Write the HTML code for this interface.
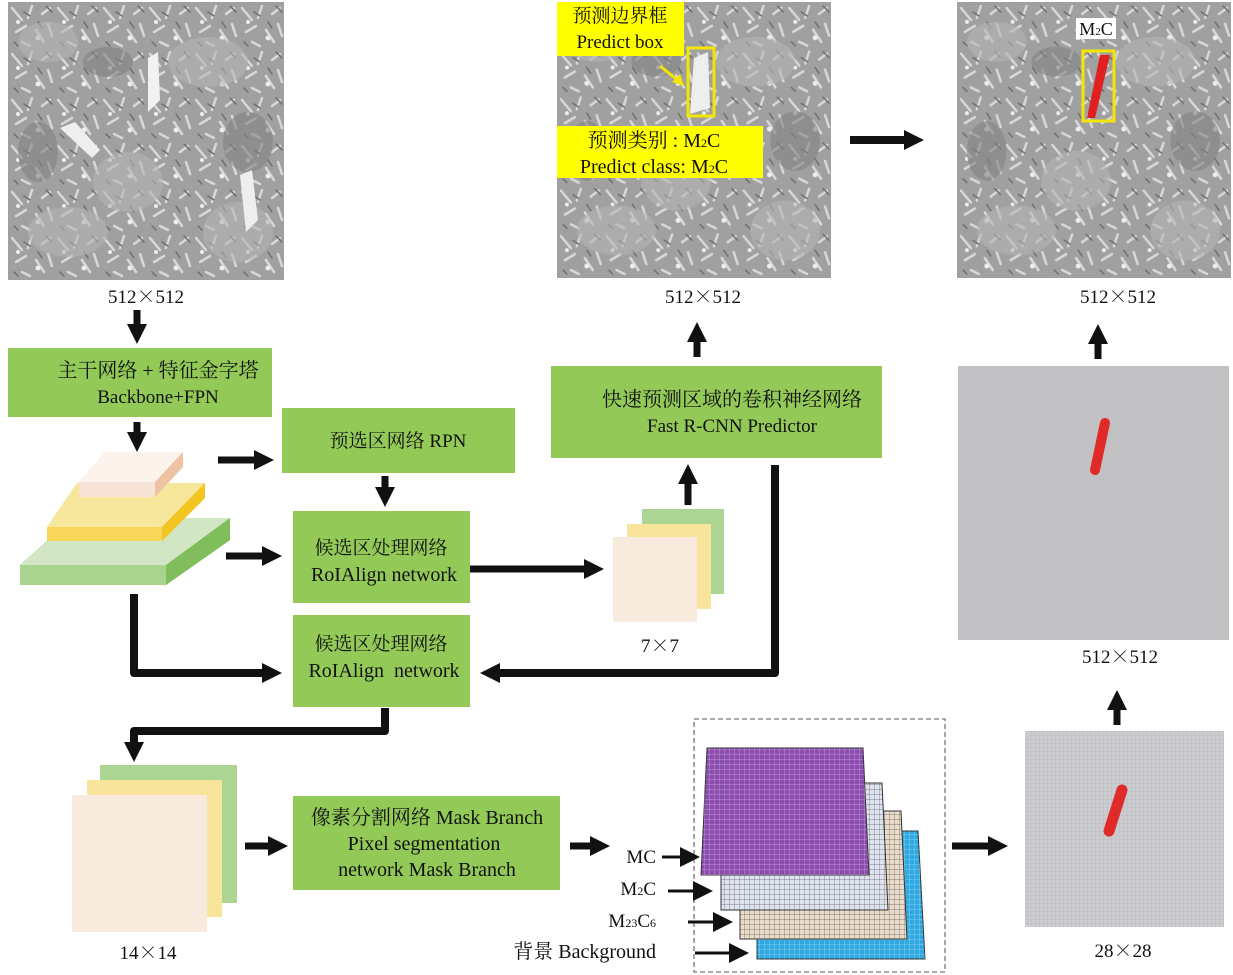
<!DOCTYPE html>
<html><head><meta charset="utf-8"><style>
html,body{margin:0;padding:0;background:#fff;}
svg{display:block;}
text{font-family:"Liberation Serif","Noto Serif CJK SC","Noto Sans CJK SC",serif;fill:#111;}
.x{font-family:"Noto Serif CJK SC","Noto Sans CJK SC",serif;}
</style></head><body>
<svg width="1233" height="975" viewBox="0 0 1233 975" xmlns="http://www.w3.org/2000/svg">
<defs>
<marker id="ah" markerUnits="userSpaceOnUse" markerWidth="22" markerHeight="22" refX="4" refY="11" orient="auto">
<path d="M0,1 L20,11 L0,21 z" fill="#111"/>
</marker>
<pattern id="grid" width="4" height="4" patternUnits="userSpaceOnUse"><path d="M4,0 V4 H0" fill="none" stroke="#b2b3b6" stroke-width="0.6"/></pattern>
<pattern id="gw" width="5" height="5" patternUnits="userSpaceOnUse"><path d="M5,0 V5 H0" fill="none" stroke="rgba(255,255,255,0.55)" stroke-width="0.7"/></pattern>
<pattern id="gd" width="5" height="5" patternUnits="userSpaceOnUse"><path d="M5,0 V5 H0" fill="none" stroke="rgba(40,40,60,0.7)" stroke-width="0.7"/></pattern>
<pattern id="tex" width="46" height="46" patternUnits="userSpaceOnUse">
<rect width="46" height="46" fill="#a0a0a0"/>
<g stroke="#d8d8d8" stroke-width="2.5" stroke-linecap="round">
<path d="M4,6 L14,18 M24,4 L20,16 M34,12 L42,6 M8,30 L18,24 M28,28 L36,40 M40,22 L44,34 M14,40 L22,44"/>
</g>
<g stroke="#6e6e6e" stroke-width="1.5" stroke-linecap="round"><path d="M16,10 L22,14 M30,20 L34,26 M6,40 L10,44 M38,4 L44,10"/></g>
<g fill="#ededed"><circle cx="30" cy="36" r="2.5"/><circle cx="10" cy="20" r="2"/></g>
</pattern>
<symbol id="micro" viewBox="0 0 276 278">
<rect width="276" height="278" fill="url(#tex)"/>
<g fill="#b4b4b4" opacity="0.6">
<ellipse cx="40" cy="40" rx="30" ry="20"/><ellipse cx="200" cy="60" rx="40" ry="25"/><ellipse cx="120" cy="180" rx="35" ry="30"/>
<ellipse cx="230" cy="230" rx="35" ry="30"/><ellipse cx="60" cy="230" rx="40" ry="25"/>
</g>
<g fill="#828282" opacity="0.6"><ellipse cx="100" cy="60" rx="25" ry="15"/><ellipse cx="240" cy="140" rx="25" ry="30"/><ellipse cx="30" cy="150" rx="20" ry="30"/></g>
</symbol>
</defs>

<!-- micrograph 1 -->
<use href="#micro" x="8" y="2" width="276" height="278"/>
<path d="M148,58 L158,52 L160,100 L148,112 z" fill="#f2f2f2"/>
<path d="M60,128 L75,122 L100,150 L92,158 z" fill="#eee"/>
<path d="M240,175 L252,170 L258,220 L246,232 z" fill="#eee"/>
<text x="146" y="303" font-size="19" text-anchor="middle">512<tspan class="x">×</tspan>512</text>

<!-- micrograph 2 -->
<use href="#micro" x="557" y="2" width="274" height="276"/>
<path d="M694,58 L708,52 L710,108 L690,114 z" fill="#eee"/>
<rect x="557" y="2" width="127" height="54" fill="#ffff00"/>
<text x="620" y="22" font-size="19" text-anchor="middle">预测边界框</text>
<text x="620" y="48" font-size="19" text-anchor="middle" font-family="Liberation Sans">Predict box</text>
<rect x="688" y="48" width="26" height="68" fill="none" stroke="#f3e600" stroke-width="3"/>
<path d="M660,66 L680,82" stroke="#f3e600" stroke-width="3"/>
<path d="M684,86 L672,82 L680,74 z" fill="#f3e600"/>
<rect x="557" y="126" width="206" height="52" fill="#ffff00"/>
<text x="654" y="147" font-size="20" text-anchor="middle">预测类别 : M<tspan font-size="12">2</tspan>C</text>
<text x="654" y="173" font-size="20" text-anchor="middle">Predict class: M<tspan font-size="12">2</tspan>C</text>
<text x="703" y="303" font-size="19" text-anchor="middle">512<tspan class="x">×</tspan>512</text>

<line x1="850" y1="140" x2="908" y2="140" stroke="#111" stroke-width="8" marker-end="url(#ah)"/>

<!-- micrograph 3 -->
<use href="#micro" x="957" y="2" width="274" height="276"/>
<rect x="1076" y="18" width="40" height="21" fill="#fff"/>
<text x="1096" y="35" font-size="18" text-anchor="middle">M<tspan font-size="11">2</tspan>C</text>
<rect x="1083" y="51" width="31" height="70" fill="none" stroke="#f3e600" stroke-width="3"/>
<path d="M1100,55 L1110,55 L1095,118 L1087,118 z" fill="#e02020"/>
<text x="1118" y="303" font-size="19" text-anchor="middle">512<tspan class="x">×</tspan>512</text>

<line x1="137" y1="310" x2="137" y2="328" stroke="#111" stroke-width="7" marker-end="url(#ah)"/>
<line x1="697" y1="357" x2="697" y2="338" stroke="#111" stroke-width="7" marker-end="url(#ah)"/>
<line x1="1098" y1="359" x2="1098" y2="340" stroke="#111" stroke-width="7" marker-end="url(#ah)"/>

<rect x="8" y="348" width="264" height="69" fill="#92c957"/>
<text x="158" y="377" font-size="20" text-anchor="middle">主干网络 + 特征金字塔</text>
<text x="158" y="403" font-size="19" text-anchor="middle" font-family="Liberation Sans">Backbone+FPN</text>
<line x1="137" y1="422" x2="137" y2="436" stroke="#111" stroke-width="7" marker-end="url(#ah)"/>

<!-- pyramid -->
<path d="M20,565 L72,518 L230,518 L230,540 L166,585 L20,585 z" fill="#a9d48f"/>
<path d="M20,565 L72,518 L230,518 L166,565 z" fill="#d3e6c4"/>
<path d="M166,565 L230,518 L230,540 L166,585 z" fill="#7fbe5a"/>
<path d="M47,527 L77,483 L205,483 L205,498 L162,541 L47,541 z" fill="#f7d65a"/>
<path d="M47,527 L77,483 L205,483 L162,527 z" fill="#f6e79c"/>
<path d="M162,527 L205,483 L205,498 L162,541 z" fill="#f2c520"/>
<path d="M79,482 L105,452 L183,452 L183,467 L155,497 L79,497 z" fill="#f8e4d6"/>
<path d="M79,482 L105,452 L183,452 L155,482 z" fill="#fbf3ec"/>
<path d="M155,482 L183,452 L183,467 L155,497 z" fill="#eec2a2"/>

<line x1="218" y1="460" x2="258" y2="460" stroke="#111" stroke-width="7" marker-end="url(#ah)"/>
<rect x="282" y="408" width="233" height="65" fill="#92c957"/>
<text x="398" y="447" font-size="19" text-anchor="middle">预选区网络 RPN</text>
<line x1="385" y1="476" x2="385" y2="491" stroke="#111" stroke-width="7" marker-end="url(#ah)"/>

<line x1="226" y1="556" x2="266" y2="556" stroke="#111" stroke-width="7" marker-end="url(#ah)"/>
<rect x="293" y="511" width="177" height="92" fill="#92c957"/>
<text x="381" y="554" font-size="19" text-anchor="middle">候选区处理网络</text>
<text x="384" y="581" font-size="20" text-anchor="middle">RoIAlign network</text>
<line x1="470" y1="569" x2="588" y2="569" stroke="#111" stroke-width="7" marker-end="url(#ah)"/>

<rect x="642" y="509" width="82" height="85" fill="#acd493"/>
<rect x="627" y="524" width="84" height="85" fill="#f8e49a"/>
<rect x="613" y="537" width="84" height="85" fill="#f8ebdd"/>
<text x="660" y="652" font-size="19" text-anchor="middle">7<tspan class="x">×</tspan>7</text>
<line x1="688" y1="505" x2="688" y2="480" stroke="#111" stroke-width="7" marker-end="url(#ah)"/>

<rect x="551" y="366" width="331" height="92" fill="#92c957"/>
<text x="732" y="406" font-size="20" text-anchor="middle">快速预测区域的卷积神经网络</text>
<text x="732" y="432" font-size="19" text-anchor="middle">Fast R-CNN Predictor</text>
<path d="M775,465 L775,673 L496,673" fill="none" stroke="#111" stroke-width="8" stroke-linejoin="round" marker-end="url(#ah)"/>

<path d="M134,594 L134,673 L266,673" fill="none" stroke="#111" stroke-width="8" stroke-linejoin="round" marker-end="url(#ah)"/>
<rect x="293" y="615" width="177" height="92" fill="#92c957"/>
<text x="381" y="650" font-size="19" text-anchor="middle">候选区处理网络</text>
<text x="384" y="677" font-size="20" text-anchor="middle">RoIAlign&#160; network</text>
<path d="M385,708 L385,731 L134,731 L134,746" fill="none" stroke="#111" stroke-width="8" stroke-linejoin="round" marker-end="url(#ah)"/>

<rect x="100" y="765" width="137" height="138" fill="#acd493"/>
<rect x="87" y="780" width="135" height="137" fill="#f8e49a"/>
<rect x="72" y="795" width="135" height="137" fill="#f8ebdd"/>
<text x="148" y="959" font-size="19" text-anchor="middle">14<tspan class="x">×</tspan>14</text>
<line x1="245" y1="846" x2="272" y2="846" stroke="#111" stroke-width="7" marker-end="url(#ah)"/>

<rect x="293" y="796" width="267" height="94" fill="#92c957"/>
<text x="427" y="824" font-size="20" text-anchor="middle">像素分割网络 Mask Branch</text>
<text x="424" y="850" font-size="20" text-anchor="middle">Pixel segmentation</text>
<text x="427" y="876" font-size="20" text-anchor="middle">network Mask Branch</text>
<line x1="570" y1="846" x2="594" y2="846" stroke="#111" stroke-width="7" marker-end="url(#ah)"/>

<rect x="694" y="719" width="251" height="253" fill="none" stroke="#777" stroke-width="1.3" stroke-dasharray="5,3"/>
<path d="M757,831 L918,831 L925,959 L757,959 z" fill="#2fa9e1" stroke="#333"/>
<path d="M757,831 L918,831 L925,959 L757,959 z" fill="url(#gw)"/>
<path d="M740,811 L901,811 L907,939 L740,939 z" fill="#eadcc8" stroke="#333"/>
<path d="M740,811 L901,811 L907,939 L740,939 z" fill="url(#gd)"/>
<path d="M721,783 L882,783 L888,910 L721,910 z" fill="#dfe3ee" stroke="#333"/>
<path d="M721,783 L882,783 L888,910 L721,910 z" fill="url(#gd)"/>
<path d="M707,748 L863,748 L869,875 L701,875 z" fill="#8c4cb0" stroke="#333"/>
<path d="M707,748 L863,748 L869,875 L701,875 z" fill="url(#gw)"/>
<text x="656" y="863" font-size="19" text-anchor="end">MC</text>
<line x1="662" y1="857" x2="684" y2="857" stroke="#111" stroke-width="3" marker-end="url(#ah)"/>
<text x="656" y="895" font-size="19" text-anchor="end">M<tspan font-size="12">2</tspan>C</text>
<line x1="668" y1="891" x2="697" y2="891" stroke="#111" stroke-width="3" marker-end="url(#ah)"/>
<text x="656" y="927" font-size="19" text-anchor="end">M<tspan font-size="12">23</tspan>C<tspan font-size="12">6</tspan></text>
<line x1="688" y1="922" x2="717" y2="922" stroke="#111" stroke-width="3" marker-end="url(#ah)"/>
<text x="656" y="958" font-size="20" text-anchor="end">背景 Background</text>
<line x1="695" y1="953" x2="733" y2="953" stroke="#111" stroke-width="3" marker-end="url(#ah)"/>

<line x1="952" y1="846" x2="992" y2="846" stroke="#111" stroke-width="7" marker-end="url(#ah)"/>
<rect x="1025" y="731" width="199" height="196" fill="#cbccd0"/>
<rect x="1025" y="731" width="199" height="196" fill="url(#grid)"/>
<line x1="1122" y1="790" x2="1109" y2="831" stroke="#e02a2a" stroke-width="11" stroke-linecap="round"/>
<text x="1123" y="957" font-size="19" text-anchor="middle">28<tspan class="x">×</tspan>28</text>
<line x1="1117" y1="725" x2="1117" y2="706" stroke="#111" stroke-width="7" marker-end="url(#ah)"/>
<text x="1120" y="663" font-size="19" text-anchor="middle">512<tspan class="x">×</tspan>512</text>

<rect x="958" y="366" width="271" height="274" fill="#c1c1c3"/>
<line x1="1105" y1="423" x2="1095" y2="470" stroke="#e02a2a" stroke-width="10" stroke-linecap="round"/>
</svg>
</body></html>
